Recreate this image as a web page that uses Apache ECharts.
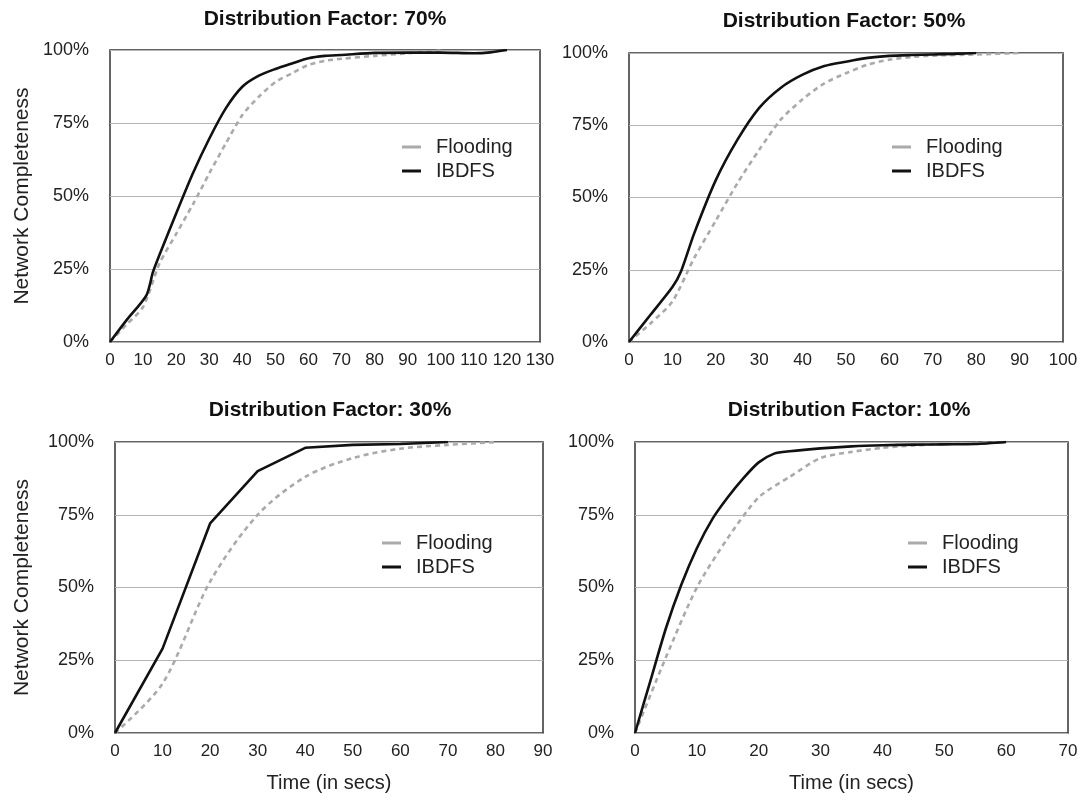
<!DOCTYPE html>
<html>
<head>
<meta charset="utf-8">
<script src="https://cdn.jsdelivr.net/npm/echarts@6/dist/echarts.min.js"></script>
<style>
html,body{margin:0;padding:0;background:#fff;}
#chart{width:1082px;height:801px;}
</style>
</head>
<body>
<div id="chart"></div>
<script>
// ---- Data ----
const panelTitles = ['Distribution Factor: 70%', 'Distribution Factor: 50%', 'Distribution Factor: 30%', 'Distribution Factor: 10%'];
const xMaxes = [130, 100, 90, 70];
const yTicks = [0, 25, 50, 75, 100];

// Distribution Factor 70%
const df70FloodTime = [0, 5, 10, 15, 20, 25, 30, 35, 40, 45, 50, 55, 60, 65, 70, 80, 90, 100];
const df70Flooding  = [0, 6, 12, 27, 37, 47, 57.7, 68, 77.7, 84, 89, 92, 94.9, 96.3, 97, 98, 98.9, 99.8];
const df70IbdfsTime = [0, 5, 11, 13, 15, 20, 25, 30, 35, 40, 45, 50, 55, 60, 65, 70, 80, 90, 100, 110, 115, 120];
const df70Ibdfs     = [0, 7.5, 16, 24, 30, 44, 57.6, 69.6, 80, 87.4, 91.2, 93.5, 95.4, 97.2, 98, 98.3, 99, 99.1, 99.1, 98.9, 99.2, 100];

// Distribution Factor 50%
const df50FloodTime = [0, 5, 10, 15, 20, 25, 30, 35, 40, 45, 50, 55, 60, 65, 70, 80, 90];
const df50Flooding  = [0, 6.5, 14, 29, 42, 55, 66.5, 77, 84, 89.5, 93, 96, 97.7, 98.6, 99.1, 99.5, 100];
const df50IbdfsTime = [0, 5, 10, 12, 15, 20, 25, 30, 35, 40, 45, 50, 55, 60, 65, 70, 75, 80];
const df50Ibdfs     = [0, 9.5, 19, 24.5, 37.5, 56, 70, 81, 88, 92.5, 95.5, 97, 98.3, 99, 99.3, 99.5, 99.7, 100];

// Distribution Factor 30%
const df30FloodTime = [0, 10, 20, 30, 40, 50, 60, 70, 80];
const df30Flooding  = [0, 17, 52, 75, 88, 94.5, 97.7, 99, 100];
const df30IbdfsTime = [0, 10, 20, 30, 40, 50, 60, 70];
const df30Ibdfs     = [0, 29, 72, 90, 98, 99, 99.3, 100];

// Distribution Factor 10%
const df10FloodTime = [0, 5, 10, 15, 20, 25, 30, 35, 40, 45, 50, 55, 60];
const df10Flooding  = [0, 26, 50, 67, 81, 88, 94.5, 96.6, 98, 98.8, 99.3, 99.6, 100];
const df10IbdfsTime = [0, 2.5, 5, 7.5, 10, 12.5, 15, 17.5, 20, 22.5, 25, 30, 35, 40, 45, 50, 55, 60];
const df10Ibdfs     = [0, 18, 36, 51, 63.5, 73.5, 81, 87.5, 93, 96, 96.8, 97.8, 98.5, 98.9, 99.1, 99.2, 99.3, 100];

const panels = [
  {flood: [df70FloodTime, df70Flooding], ibdfs: [df70IbdfsTime, df70Ibdfs], ibdfsSmooth: 0.25, floodSmooth: 0.25},
  {flood: [df50FloodTime, df50Flooding], ibdfs: [df50IbdfsTime, df50Ibdfs], ibdfsSmooth: 0.25, floodSmooth: 0.25},
  {flood: [df30FloodTime, df30Flooding], ibdfs: [df30IbdfsTime, df30Ibdfs], ibdfsSmooth: false, floodSmooth: 0.3},
  {flood: [df10FloodTime, df10Flooding], ibdfs: [df10IbdfsTime, df10Ibdfs], ibdfsSmooth: 0.25, floodSmooth: 0.25}
];

// ---- Layout ----
const grids = [
  {left: 110, top: 50, width: 430, height: 292},
  {left: 629, top: 53, width: 434, height: 289},
  {left: 115, top: 442, width: 428, height: 291},
  {left: 635, top: 442, width: 433, height: 291}
];
const titlePos = [{x: 325, y: 9}, {x: 844, y: 11}, {x: 330, y: 400}, {x: 849, y: 400}];
const legendPos = [{x: 402, y: 137}, {x: 892, y: 137}, {x: 382, y: 533}, {x: 908, y: 533}];

const FONT = '"Liberation Sans", Arial, Helvetica, sans-serif';
const zip = (a, b) => a.map((v, i) => [v, b[i]]);

const option = {
  backgroundColor: '#fff',
  animation: false,
  textStyle: {fontFamily: FONT},
  title: panelTitles.map((t, i) => ({
    text: t, left: titlePos[i].x, top: titlePos[i].y, textAlign: 'center', padding: 0,
    textStyle: {fontFamily: FONT, fontSize: 21, fontWeight: 'bold', color: '#111'}
  })),
  legend: legendPos.map((p, i) => ({
    orient: 'vertical', left: p.x, top: p.y, padding: 0,
    itemWidth: 19, itemHeight: 3, itemGap: 4,
    data: [
      {name: 'Flooding', icon: 'rect', itemStyle: {color: '#aaaaaa'}},
      {name: 'IBDFS', icon: 'rect', itemStyle: {color: '#111111'}}
    ],
    textStyle: {fontFamily: FONT, fontSize: 20, color: '#222', lineHeight: 20, padding: [0, 0, 0, 10]},
    selectedMode: false
  })),
  grid: grids.map(g => Object.assign({
    show: true, borderColor: '#333', borderWidth: 1.5, backgroundColor: 'transparent', containLabel: false
  }, g)),
  xAxis: xMaxes.map((m, i) => ({
    type: 'value', gridIndex: i, min: 0, max: m, interval: 10,
    axisLine: {show: false}, axisTick: {show: false}, splitLine: {show: false},
    axisLabel: {fontFamily: FONT, fontSize: 17, color: '#222', margin: 10},
    name: i >= 2 ? 'Time (in secs)' : '', nameLocation: 'middle', nameGap: 40,
    nameTextStyle: {fontFamily: FONT, fontSize: 20, color: '#222'}
  })),
  yAxis: xMaxes.map((m, i) => ({
    type: 'value', gridIndex: i, min: 0, max: 100, interval: 25,
    axisLine: {show: false}, axisTick: {show: false},
    splitLine: {show: true, lineStyle: {color: '#b4b4b4', width: 1.2}},
    axisLabel: {fontFamily: FONT, fontSize: 18, color: '#222', margin: 21, formatter: v => yTicks.includes(v) ? v + '%' : ''},
    name: (i % 2 === 0) ? 'Network Completeness' : '', nameLocation: 'middle', nameRotate: 90,
    nameGap: i === 0 ? 77 : 82,
    nameTextStyle: {fontFamily: FONT, fontSize: 21, color: '#222'}
  })),
  series: []
};

panels.forEach((p, i) => {
  option.series.push({
    name: 'Flooding', type: 'line', xAxisIndex: i, yAxisIndex: i,
    data: zip(p.flood[0], p.flood[1]), showSymbol: false, smooth: p.floodSmooth,
    lineStyle: {color: '#aaaaaa', width: 2.6, type: [5, 4]}, itemStyle: {color: '#aaaaaa'}, z: 2
  });
  option.series.push({
    name: 'IBDFS', type: 'line', xAxisIndex: i, yAxisIndex: i,
    data: zip(p.ibdfs[0], p.ibdfs[1]), showSymbol: false, smooth: p.ibdfsSmooth,
    lineStyle: {color: '#111111', width: 2.6}, itemStyle: {color: '#111111'}, z: 3
  });
});

const chart = echarts.init(document.getElementById('chart'), null, {renderer: 'canvas'});
chart.setOption(option);
</script>
</body>
</html>
